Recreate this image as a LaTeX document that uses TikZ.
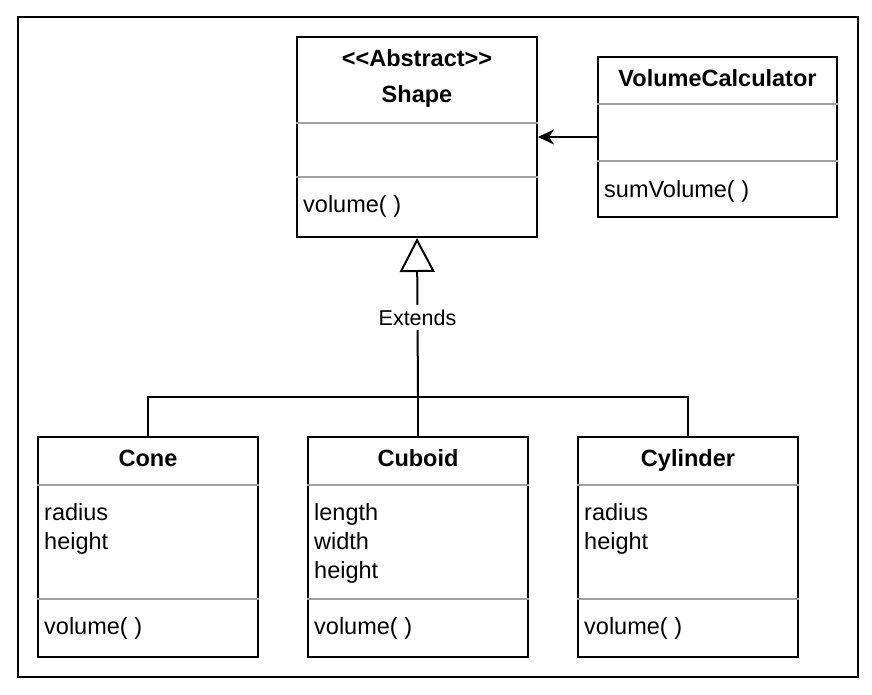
\documentclass[tikz,border=0pt]{standalone}
\usepackage{fontspec}
\setmainfont{Liberation Sans}
\usetikzlibrary{arrows.meta,calc}
\definecolor{divcol}{RGB}{160,160,160}
\begin{document}
\begin{tikzpicture}[x=1pt,y=-1pt,
  classbox/.style={draw=black,line width=2pt,fill=white,inner sep=0pt,minimum width=#1},
  divider/.style={draw=divcol,line width=1.5pt},
  txt/.style={inner sep=0pt,font=\fontsize{23.5}{28}\selectfont},
  ttl/.style={txt,font=\fontsize{23.5}{28}\selectfont\bfseries,anchor=base},
  attr/.style={txt,anchor=base west},
  conn/.style={draw=black,line width=2pt},
  lbl/.style={fill=white,inner xsep=2pt,inner ysep=5pt,font=\fontsize{21.5}{26}\selectfont}
]
\useasboundingbox (0,0) rectangle (872,694);
\draw[line width=2pt] (17.5,17) rectangle (857.5,676.5);

% classes
\node[classbox=240pt,minimum height=200pt] (shape) at (417,137) {};
\node[classbox=239pt,minimum height=160pt] (vc) at (717.5,137) {};
\node[classbox=220pt,minimum height=220pt] (cone) at (148,547) {};
\node[classbox=220pt,minimum height=220pt] (cuboid) at (418,547) {};
\node[classbox=220pt,minimum height=220pt] (cylinder) at (688,547) {};

% dividers
\draw[divider] (shape.west |- 0,123) -- (shape.east |- 0,123);
\draw[divider] (shape.west |- 0,177) -- (shape.east |- 0,177);
\draw[divider] (vc.west |- 0,104) -- (vc.east |- 0,104);
\draw[divider] (vc.west |- 0,161) -- (vc.east |- 0,161);
\foreach \c in {cone,cuboid,cylinder}{
  \draw[divider] (\c.west |- 0,485) -- (\c.east |- 0,485);
  \draw[divider] (\c.west |- 0,599) -- (\c.east |- 0,599);
}

% texts
\node[ttl] (shapeStereo) at (417,66) {<{}<Abstract>{}>};
\node[ttl] (shapeName) at (417,102) {Shape};
\node[attr] (shapeOp) at (303,212) {volume( )};

\node[ttl] (vcName) at (717.5,86) {VolumeCalculator};
\node[attr] (vcOp) at (604,197) {sumVolume( )};

\node[ttl] (coneName) at (148,466) {Cone};
\node[attr] (coneA1) at (44,520) {radius};
\node[attr] (coneA2) at (44,549.5) {height};
\node[attr] (coneOp) at (44,634) {volume( )};

\node[ttl] (cuboidName) at (418,466) {Cuboid};
\node[attr] (cuboidA1) at (314,520) {length};
\node[attr] (cuboidA2) at (314,549.5) {width};
\node[attr] (cuboidA3) at (314,578) {height};
\node[attr] (cuboidOp) at (314,634) {volume( )};

\node[ttl] (cylName) at (688,466) {Cylinder};
\node[attr] (cylA1) at (584,520) {radius};
\node[attr] (cylA2) at (584,549.5) {height};
\node[attr] (cylOp) at (584,634) {volume( )};

% connectors
\coordinate (j) at (418,397);
\draw[conn] (cone.north) |- (j) -| (cylinder.north);
\draw[conn] (cuboid.north) -- (j);
\draw[conn,-{Triangle[open,length=34pt,width=35pt]}] (j) -- node[lbl] (ext) {Extends} (shape.south);
\draw[conn,-{Stealth[length=16pt,width=15pt,inset=5pt]}] (vc.west) -- (shape.east);
\end{tikzpicture}
\end{document}
